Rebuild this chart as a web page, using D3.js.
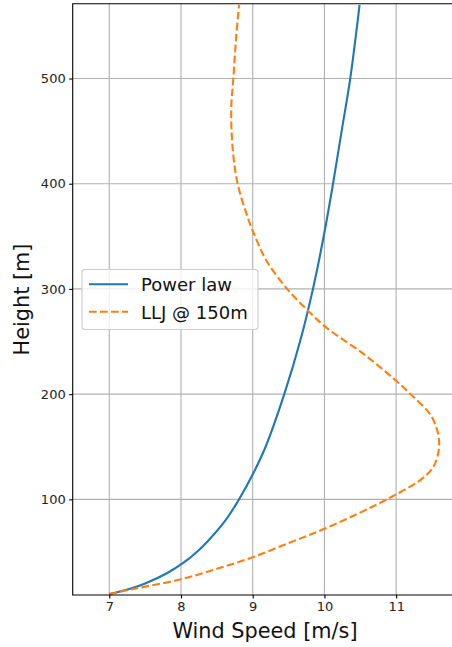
<!DOCTYPE html>
<html>
<head>
<meta charset="utf-8">
<script src="https://cdn.jsdelivr.net/npm/d3@7"></script>
<style>
  html, body { margin: 0; padding: 0; background: #fff; }
  svg { display: block; font-family: "DejaVu Sans", sans-serif; }
</style>
</head>
<body>
<svg id="chart" width="452" height="647"></svg>
<script>
// Data
const seriesNames = ["Power law", "LLJ @ 150m"];
const heightsPower = [10, 15, 20, 30, 40, 50, 60, 80, 100, 125, 150, 200, 250, 300, 350, 400, 450, 500, 570];
const speedPower   = [7.00, 7.29, 7.50, 7.81, 8.04, 8.22, 8.37, 8.62, 8.81, 9.01, 9.18, 9.44, 9.66, 9.84, 9.99, 10.12, 10.24, 10.36, 10.49];
const heightsLLJ = [10, 15, 24, 34, 45, 59, 72, 92, 104, 118, 131, 153, 178, 200, 215, 239, 263, 280, 300, 327, 352, 372, 400, 430, 470, 500, 540, 570];
const speedLLJ   = [7.00, 7.35, 8.00, 8.50, 9.00, 9.52, 10.00, 10.64, 10.98, 11.33, 11.52, 11.60, 11.50, 11.20, 10.96, 10.53, 10.03, 9.76, 9.48, 9.19, 9.02, 8.91, 8.79, 8.725, 8.70, 8.73, 8.77, 8.81];
const xTicks = [7, 8, 9, 10, 11];
const yTicks = [100, 200, 300, 400, 500];
const xLabel = "Wind Speed [m/s]";
const yLabel = "Height [m]";

(function () {
const svg = d3.select("#chart");
const pLeft = 72.7, pRight = 452.8, pTop = 3.7, pBottom = 595;

const x = d3.scaleLinear().domain([6.49, 11.79]).range([pLeft, pRight]);
const y = d3.scaleLinear().domain([9.07, 571.1]).range([pBottom, pTop]);

const gridColor = "#b0b0b0";

// grid
const grid = svg.append("g");
grid.selectAll("line.vx").data(xTicks).enter().append("line")
  .attr("x1", d => x(d)).attr("x2", d => x(d))
  .attr("y1", pTop).attr("y2", pBottom)
  .attr("stroke", gridColor).attr("stroke-width", 1.1);
grid.selectAll("line.hy").data(yTicks).enter().append("line")
  .attr("x1", pLeft).attr("x2", pRight)
  .attr("y1", d => y(d)).attr("y2", d => y(d))
  .attr("stroke", gridColor).attr("stroke-width", 1.1);

// axes
const xAxis = d3.axisBottom(x).tickValues(xTicks).tickSize(3.5).tickPadding(3.5).tickFormat(d3.format("d"));
const yAxis = d3.axisLeft(y).tickValues(yTicks).tickSize(3.5).tickPadding(3.5).tickFormat(d3.format("d"));

const gx = svg.append("g").attr("transform", `translate(0,${pBottom})`).call(xAxis);
const gy = svg.append("g").attr("transform", `translate(${pLeft},0)`).call(yAxis);
[gx, gy].forEach(g => {
  g.select(".domain").remove();
  g.selectAll(".tick line").attr("stroke", "#000").attr("stroke-width", 1.1);
  g.selectAll(".tick text").attr("fill", "#222").style("font-size", "13px").style("font-family", "DejaVu Sans");
});

// lines
const linePath = d3.line().x(d => x(d.v)).y(d => y(d.z)).curve(d3.curveCatmullRom.alpha(0.5));
const powerData = heightsPower.map((z, i) => ({ z, v: speedPower[i] }));
const lljData = heightsLLJ.map((z, i) => ({ z, v: speedLLJ[i] }));

svg.append("defs").append("clipPath").attr("id", "clip")
  .append("rect").attr("x", pLeft).attr("y", pTop).attr("width", pRight - pLeft).attr("height", pBottom - pTop);

const plot = svg.append("g").attr("clip-path", "url(#clip)");
plot.append("path").datum(powerData).attr("d", linePath)
  .attr("fill", "none").attr("stroke", "#1f77b4").attr("stroke-width", 2.1);
plot.append("path").datum(lljData).attr("d", linePath)
  .attr("fill", "none").attr("stroke", "#ff7f0e").attr("stroke-width", 2.1)
  .attr("stroke-dasharray", "7.7,3.3");

// spines
svg.append("path")
  .attr("d", `M${pRight},${pTop}H${pLeft}V${pBottom}H${pRight}`)
  .attr("fill", "none").attr("stroke", "#000").attr("stroke-width", 1.1);

// axis labels
svg.append("text").attr("x", 265).attr("y", 637.5).attr("text-anchor", "middle")
  .style("font-size", "20.8px").attr("fill", "#111").text(xLabel);
svg.append("text").attr("transform", `translate(29,299.5) rotate(-90)`).attr("text-anchor", "middle")
  .style("font-size", "20.8px").attr("fill", "#111").text(yLabel);

// legend
const lg = svg.append("g");
lg.append("rect").attr("x", 82).attr("y", 269.5).attr("width", 176).attr("height", 60)
  .attr("rx", 3).attr("fill", "#fff").attr("fill-opacity", 0.8)
  .attr("stroke", "#cccccc").attr("stroke-width", 1.1);
const entries = [
  { name: seriesNames[0], color: "#1f77b4", dash: null, yy: 284.3 },
  { name: seriesNames[1], color: "#ff7f0e", dash: "7.7,3.3", yy: 311.7 }
];
entries.forEach(e => {
  lg.append("line").attr("x1", 89).attr("x2", 128).attr("y1", e.yy).attr("y2", e.yy)
    .attr("stroke", e.color).attr("stroke-width", 2.1)
    .attr("stroke-dasharray", e.dash);
  lg.append("text").attr("x", 141).attr("y", e.yy + 7).style("font-size", "18px")
    .attr("fill", "#111").text(e.name);
});
})();
</script>
</body>
</html>
